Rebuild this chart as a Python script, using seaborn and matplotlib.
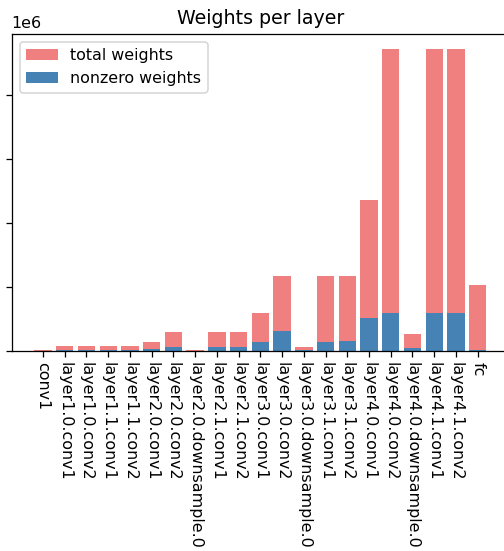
import matplotlib
matplotlib.use("Agg")
import matplotlib.pyplot as plt
import seaborn as sns
import pandas as pd

layers = ["conv1", "layer1.0.conv1", "layer1.0.conv2", "layer1.1.conv1", "layer1.1.conv2",
          "layer2.0.conv1", "layer2.0.conv2", "layer2.0.downsample.0", "layer2.1.conv1",
          "layer2.1.conv2", "layer3.0.conv1", "layer3.0.conv2", "layer3.0.downsample.0",
          "layer3.1.conv1", "layer3.1.conv2", "layer4.0.conv1", "layer4.0.conv2",
          "layer4.0.downsample.0", "layer4.1.conv1", "layer4.1.conv2", "fc"]
total_weights = [9408, 36864, 36864, 36864, 36864, 73728, 147456, 8192, 147456, 147456,
                 294912, 589824, 32768, 589824, 589824, 1179648, 2359296, 131072,
                 2359296, 2359296, 512000]
nonzero_weights = [2000, 5000, 5000, 5000, 5000, 16000, 34000, 2000, 29000, 29000,
                   73000, 156000, 5000, 73000, 80000, 260000, 300000, 27000,
                   300000, 300000, 11000]
offset_label = "1e6"

df = pd.DataFrame({"layer": layers, "total": total_weights, "nonzero": nonzero_weights})

DPI = 114
fig = plt.figure(figsize=(504 / DPI, 551 / DPI), dpi=DPI)
ax = fig.add_axes([11.7 / 504, (551 - 351) / 551, (509 - 11.7) / 504, (351 - 34) / 551])

sns.barplot(data=df, x="layer", y="total", color="lightcoral", saturation=1,
            width=0.8, linewidth=0, label="total weights", ax=ax)
sns.barplot(data=df, x="layer", y="nonzero", color="steelblue", saturation=1,
            width=0.8, linewidth=0, label="nonzero weights", ax=ax)

n = len(layers)
span = (n - 1) + 0.8
ax.set_xlim(-0.4 - 0.05 * span, (n - 1) + 0.4 + 0.05 * span)
ax.set_ylim(0, max(total_weights) * 1.05)
ax.set_xlabel("")
ax.set_ylabel("")
ax.tick_params(axis="x", labelrotation=270)
ax.tick_params(axis="y", labelleft=False)
ax.text(0, 1.01, offset_label, transform=ax.transAxes, ha="left", va="bottom")
ax.set_title("Weights per layer")
ax.legend(loc="upper left")

fig.savefig("out.png", dpi=DPI)
